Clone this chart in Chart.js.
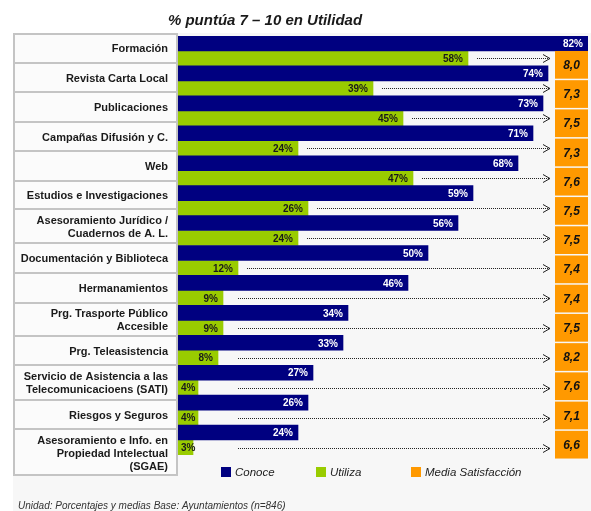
<!DOCTYPE html>
<html>
<head>
<meta charset="utf-8">
<script src="https://cdn.jsdelivr.net/npm/chart.js@4/dist/chart.umd.min.js"></script>
<style>
  body { margin: 0; background: #ffffff; }
  canvas { display: block; }
</style>
</head>
<body>
<canvas id="grafico_utilidad" width="591" height="511"></canvas>
<script>
const categorias = [
    'Formación',
    'Revista Carta Local',
    'Publicaciones',
    'Campañas Difusión y C.',
    'Web',
    'Estudios e Investigaciones',
    ['Asesoramiento Jurídico /', 'Cuadernos de A. L.'],
    'Documentación y Biblioteca',
    'Hermanamientos',
    ['Prg. Trasporte Público', 'Accesible'],
    'Prg. Teleasistencia',
    ['Servicio de Asistencia a las', 'Telecomunicacioens (SATI)'],
    'Riesgos y Seguros',
    ['Asesoramiento e Info. en', 'Propiedad Intelectual', '(SGAE)']
];
const conoce = [82, 74, 73, 71, 68, 59, 56, 50, 46, 34, 33, 27, 26, 24];
const utiliza = [58, 39, 45, 24, 47, 26, 24, 12, 9, 9, 8, 4, 4, 3];
const mediaSatisfaccion = [8.0, 7.3, 7.5, 7.3, 7.6, 7.5, 7.5, 7.4, 7.4, 7.5, 8.2, 7.6, 7.1, 6.6];

const titulo = '% puntúa 7 – 10 en Utilidad';
const nota = 'Unidad: Porcentajes y medias Base: Ayuntamientos (n=846)';
const leyenda = [
    { texto: 'Conoce', color: '#000080' },
    { texto: 'Utiliza', color: '#99cc00' },
    { texto: 'Media Satisfacción', color: '#ff9900' }
];

// bordes de las filas de la tabla de etiquetas (las filas de varias lineas son mas altas)
const filasTabla = [33, 63, 92, 122, 151, 181, 209, 243, 273, 303, 336, 365, 400, 429, 476];

const FUENTE = '"Liberation Sans", Arial, sans-serif';

// fondo, tabla de etiquetas y titulo
const fondo = {
    id: 'fondo',
    beforeDraw(chart) {
        const c = chart.ctx;
        c.save();
        c.fillStyle = '#ffffff';
        c.fillRect(0, 0, chart.width, chart.height);
        c.fillStyle = '#f7f7f7';
        c.fillRect(13, 33, chart.width - 13, chart.height - 33);

        const izq = 13, der = chart.chartArea.left;
        const arriba = filasTabla[0], abajo = filasTabla[filasTabla.length - 1];
        c.fillStyle = '#fbfbfb';
        c.fillRect(izq, arriba, der - izq, abajo - arriba);
        c.strokeStyle = '#c4c4c4';
        c.lineWidth = 2;
        c.strokeRect(izq + 1, arriba + 1, der - izq - 2, abajo - arriba - 2);
        for (let i = 1; i < filasTabla.length - 1; i++) {
            c.beginPath();
            c.moveTo(izq, filasTabla[i]);
            c.lineTo(der, filasTabla[i]);
            c.stroke();
        }

        c.fillStyle = '#1a1a1a';
        c.font = 'bold 11px ' + FUENTE;
        c.textAlign = 'right';
        c.textBaseline = 'middle';
        categorias.forEach((cat, i) => {
            const lineas = Array.isArray(cat) ? cat : [cat];
            const centro = (filasTabla[i] + filasTabla[i + 1]) / 2 + 1;
            lineas.forEach((l, k) => {
                c.fillText(l, der - 10, centro + (k - (lineas.length - 1) / 2) * 13);
            });
        });

        c.font = 'italic bold 15px ' + FUENTE;
        c.textAlign = 'center';
        c.textBaseline = 'alphabetic';
        c.fillText(titulo, 265, 25);
        c.restore();
    }
};

// etiquetas de valor, flechas, cajas de media, leyenda y nota
const extras = {
    id: 'extras',
    afterDatasetsDraw(chart) {
        const c = chart.ctx;
        const area = chart.chartArea;
        const y = chart.scales.y;
        const barrasC = chart.getDatasetMeta(0).data;
        const barrasU = chart.getDatasetMeta(1).data;
        const n = categorias.length;
        c.save();

        // flechas punteadas
        const punta = area.right - 38;
        c.strokeStyle = '#222222';
        c.lineWidth = 1;
        barrasU.forEach((b) => {
            const yy = Math.round(b.y) + 0.5;
            const inicio = Math.max(b.x + 9, area.left + 60);
            c.setLineDash([1, 1]);
            c.beginPath();
            c.moveTo(inicio, yy);
            c.lineTo(punta, yy);
            c.stroke();
            c.setLineDash([]);
            c.beginPath();
            c.moveTo(punta - 7, yy - 4);
            c.lineTo(punta, yy);
            c.lineTo(punta - 7, yy + 4);
            c.stroke();
        });

        // cajas de media satisfaccion
        const top = y.getPixelForValue(0) - 1;
        const bottom = y.getPixelForValue(n - 1) + 19;
        const alto = (bottom - top) / n;
        const xCaja = area.right - 33;
        c.font = 'italic bold 12px ' + FUENTE;
        c.textAlign = 'center';
        c.textBaseline = 'middle';
        mediaSatisfaccion.forEach((m, i) => {
            const y0 = top + i * alto;
            c.fillStyle = '#ff9900';
            c.fillRect(xCaja, y0 + 1, 33, alto - 1.5);
            c.fillStyle = '#111111';
            c.fillText(m.toFixed(1).replace('.', ','), xCaja + 16.5, y0 + alto / 2 + 1);
        });

        c.font = 'bold 10px ' + FUENTE;
        barrasC.forEach((b, i) => {
            c.fillStyle = '#ffffff';
            c.textAlign = 'right';
            c.fillText(conoce[i] + '%', b.x - 5, b.y + 1);
        });
        barrasU.forEach((b, i) => {
            const txt = utiliza[i] + '%';
            const w = c.measureText(txt).width;
            c.fillStyle = '#1a1a1a';
            c.textAlign = 'left';
            const x = Math.max(b.x - 5 - w, b.base + 3);
            c.fillText(txt, x, b.y + 1);
        });

        // leyenda
        c.font = 'italic 11.5px ' + FUENTE;
        c.textAlign = 'left';
        leyenda.forEach((item, i) => {
            const x = 221 + i * 95;
            c.fillStyle = item.color;
            c.fillRect(x, 467, 10, 10);
            c.fillStyle = '#222222';
            c.fillText(item.texto, x + 14, 472.5);
        });

        c.font = 'italic 10px ' + FUENTE;
        c.fillStyle = '#333333';
        c.textBaseline = 'alphabetic';
        c.fillText(nota, 18, 509);
        c.restore();
    }
};

document.addEventListener("DOMContentLoaded", function() {
    const data = {
        labels: categorias,
        datasets: [{
            label: 'Conoce',
            data: conoce,
            backgroundColor: '#000080',
            categoryPercentage: 1,
            barPercentage: 1
        }, {
            label: 'Utiliza',
            data: utiliza,
            backgroundColor: '#99cc00',
            categoryPercentage: 1,
            barPercentage: 1
        }]
    };

    var ctx = document.getElementById("grafico_utilidad").getContext('2d');
    var myChart = new Chart(ctx, {
        type: 'bar',
        data: data,
        plugins: [fondo, extras],
        options: {
            indexAxis: 'y',
            responsive: false,
            animation: false,
            devicePixelRatio: 1,
            layout: {
                padding: { top: 36, bottom: 56, left: 13, right: 3 }
            },
            plugins: {
                legend: { display: false },
                title: { display: false },
                tooltip: { enabled: false }
            },
            scales: {
                x: {
                    display: false,
                    min: 0,
                    max: 82
                },
                y: {
                    grid: { display: false, drawTicks: false },
                    border: { display: false },
                    ticks: { display: false },
                    afterFit: function(scale) {
                        scale.width = 165;
                    }
                }
            }
        }
    });
});
</script>
</body>
</html>
